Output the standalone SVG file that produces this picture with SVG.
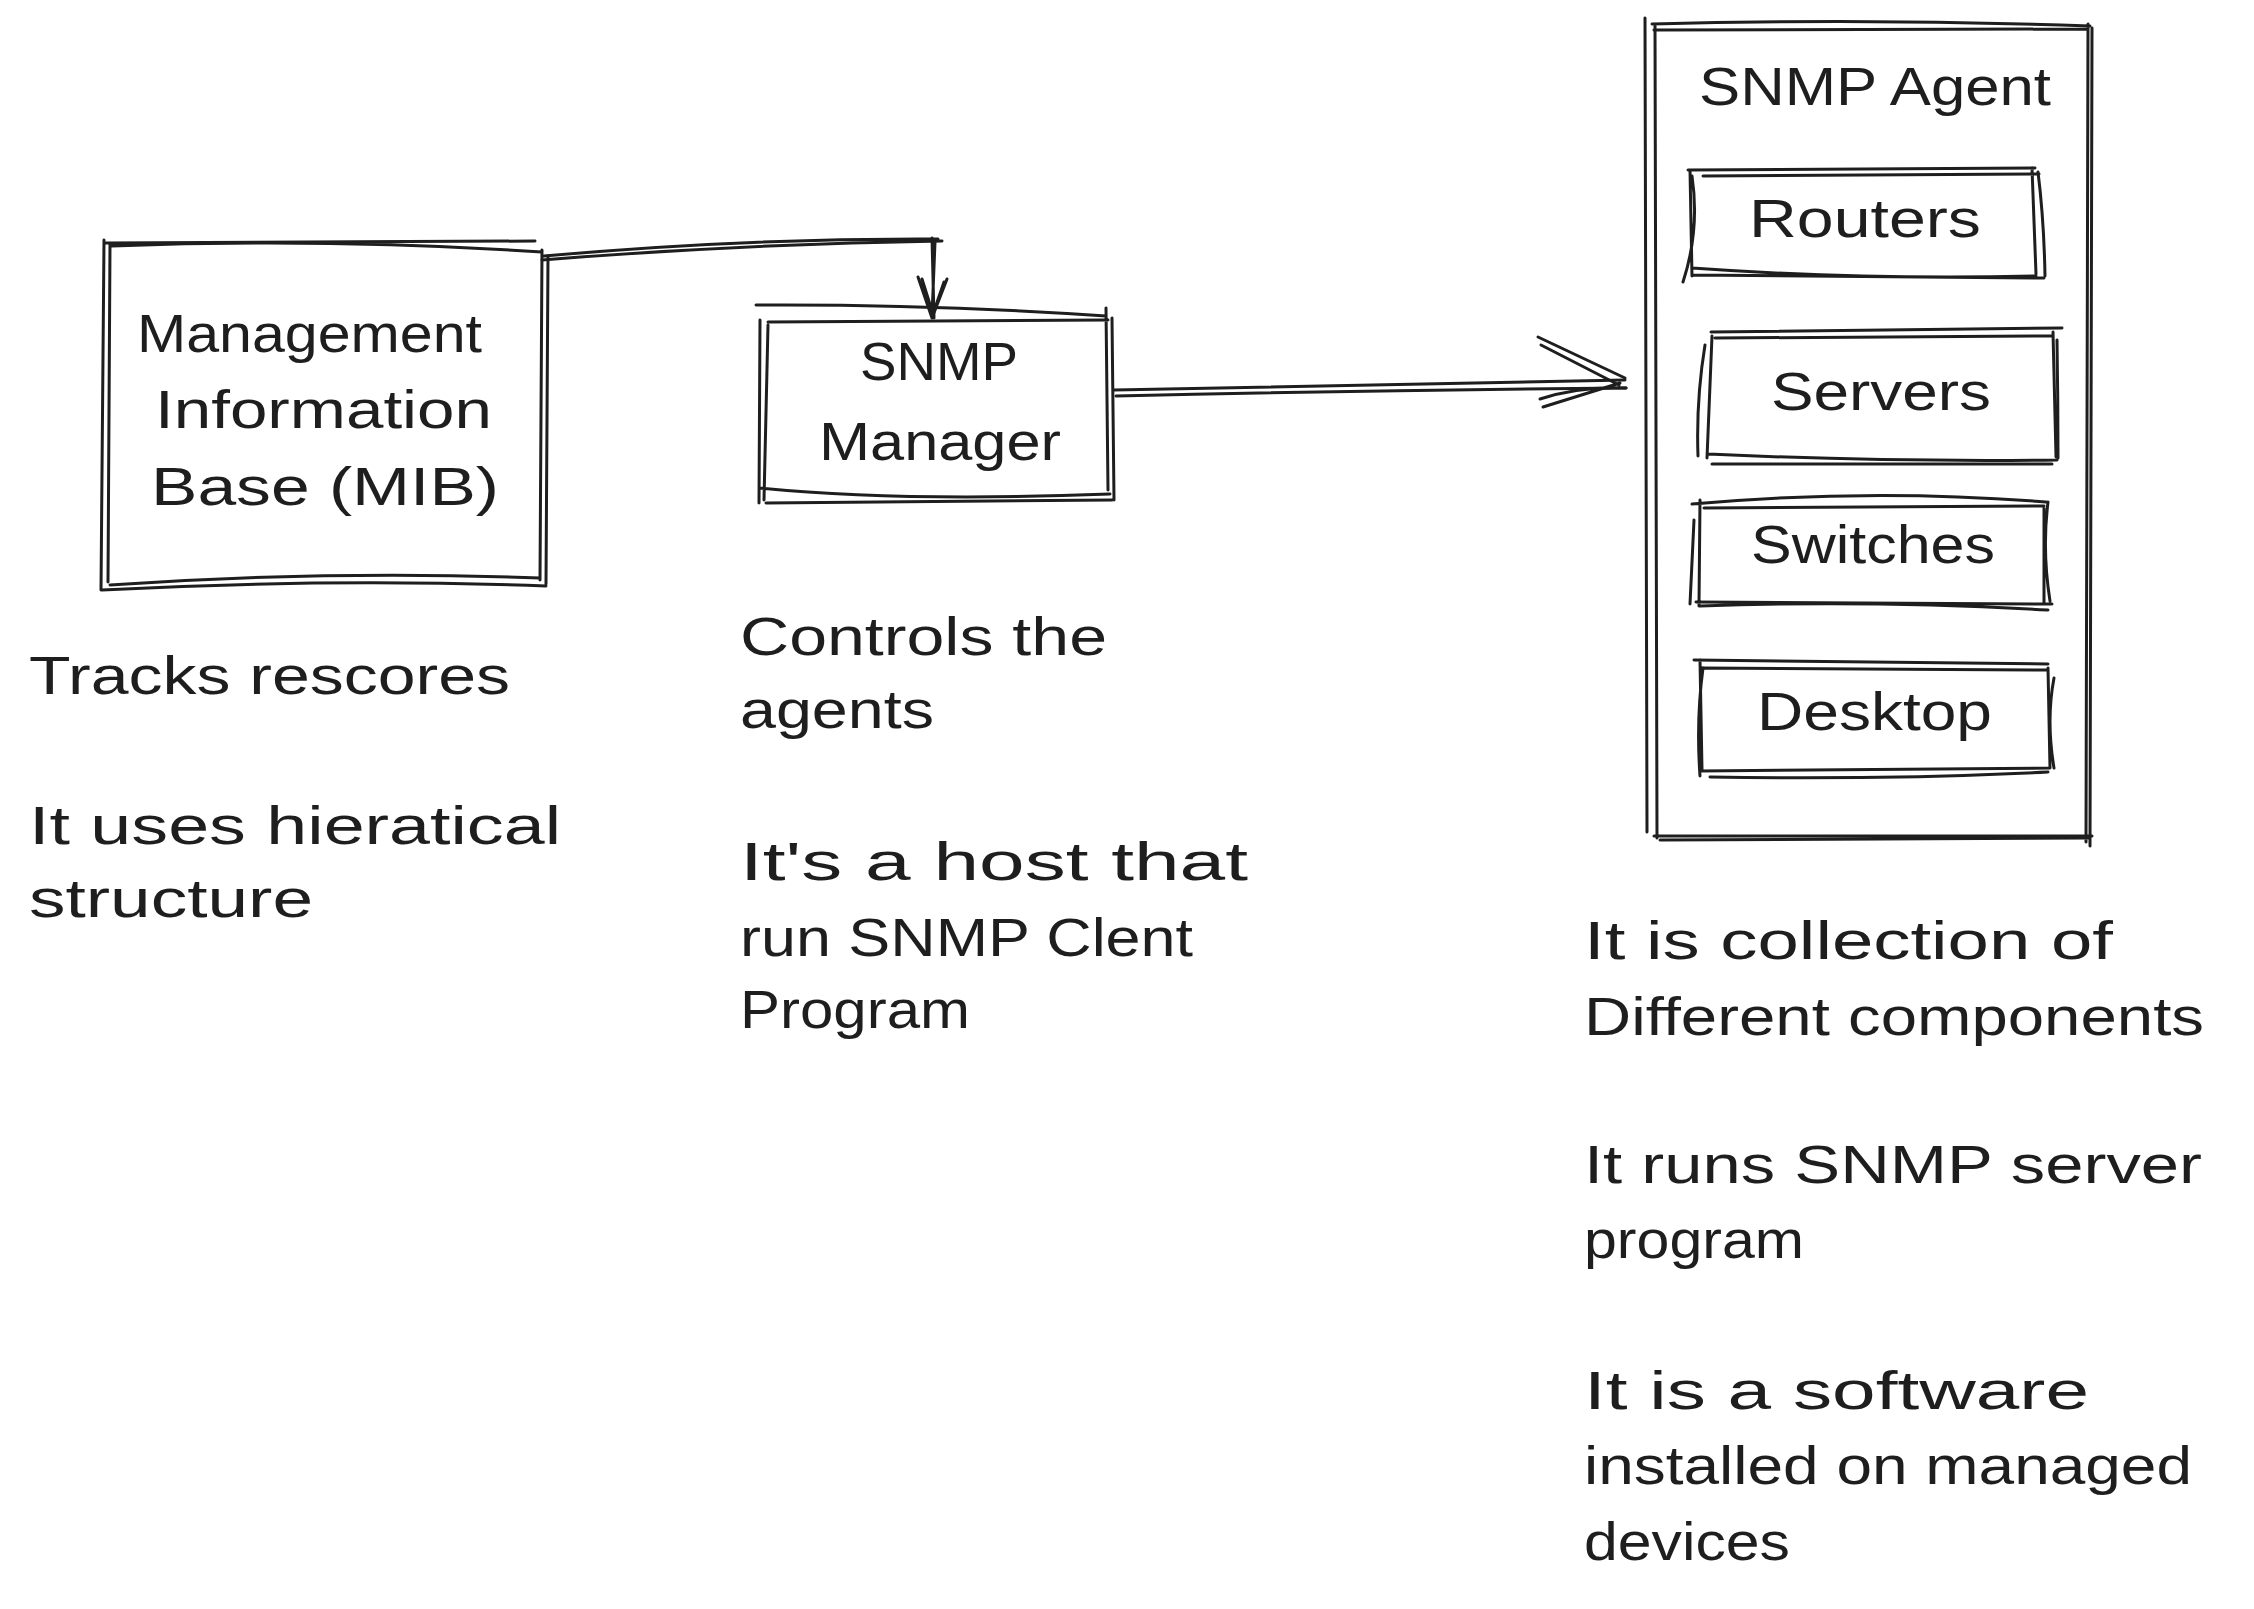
<svg xmlns="http://www.w3.org/2000/svg" width="2254" height="1609" viewBox="0 0 2254 1609">
<style>
.sk{fill:none;stroke:#1e1e1e;stroke-width:3;stroke-linecap:round;stroke-linejoin:round}
.t{font-family:"Liberation Sans","DejaVu Sans",sans-serif;font-size:54px;fill:#1e1e1e}
.c{text-anchor:start}
</style>
<rect width="2254" height="1609" fill="#ffffff"/>
<g id="connectors">
<path class="sk" d="M542 260 Q740 244 942 241 M544 256 Q745 238 938 239"/>
<path class="sk" d="M932 238 L934 318 M935 242 L932 316"/>
<path class="sk" d="M918 277 L932 318 L947 279 M922 279 L933 314 L944 282"/>
<path class="sk" d="M1114 390 Q1370 384 1625 380 M1116 396 Q1370 390 1626 388"/>
<path class="sk" d="M1538 337 L1625 378 M1541 345 L1619 385 M1540 399 Q1580 386 1626 388 M1543 407 L1620 383"/>
</g>
<g id="mib">
<path class="sk" d="M106 243 L535 241 M112 246 Q330 238 542 252 M542 250 L540 580 M548 256 L546 584 M110 585 Q330 570 540 578 M102 590 Q330 578 546 586 M110 244 L108 582 M104 240 L101 590"/>
<text class="t" x="137" y="352" textLength="345" lengthAdjust="spacingAndGlyphs">Management</text>
<text class="t" x="155" y="428" textLength="337" lengthAdjust="spacingAndGlyphs">Information</text>
<text class="t" x="151" y="505" textLength="348" lengthAdjust="spacingAndGlyphs">Base (MIB)</text>
</g>
<g id="snmp-manager">
<path class="sk" d="M756 305 Q930 304 1106 316 M768 322 L1108 320 M1106 308 L1108 490 M1112 318 L1114 500 M760 488 Q900 502 1110 494 M766 503 L1112 500 M768 325 L764 500 M760 320 L759 503"/>
<text class="t" x="860" y="380" textLength="158" lengthAdjust="spacingAndGlyphs">SNMP</text>
<text class="t" x="819" y="460" textLength="242" lengthAdjust="spacingAndGlyphs">Manager</text>
</g>
<g id="snmp-agent">
<path class="sk" d="M1652 24 Q1870 18 2090 26 M1654 30 L2088 29 M2088 24 L2086 842 M2092 28 L2090 846 M1654 836 L2092 836 M1660 840 L2088 838 M1645 18 L1647 832 M1655 26 L1657 838"/>
<text class="t" x="1699" y="105" textLength="352" lengthAdjust="spacingAndGlyphs">SNMP Agent</text>
</g>
<g id="routers">
<path class="sk" d="M1688 170 L2035 168 M1703 176 L2039 174 M2032 168 L2036 274 M2038 172 Q2044 220 2045 276 M1692 275 L2044 278 M1692 268 Q1860 280 2036 276 M1690 170 L1692 276 M1692 176 Q1700 230 1683 282"/>
<text class="t" x="1749" y="237" textLength="232" lengthAdjust="spacingAndGlyphs">Routers</text>
</g>
<g id="servers">
<path class="sk" d="M1711 332 L2062 328 M1715 338 L2052 336 M2053 332 L2056 457 M2057 340 Q2058 400 2058 458 M1708 454 Q1880 462 2057 460 M1712 464 L2052 464 M1712 336 L1707 458 M1705 345 Q1696 400 1698 456"/>
<text class="t" x="1771" y="410" textLength="220" lengthAdjust="spacingAndGlyphs">Servers</text>
</g>
<g id="switches">
<path class="sk" d="M1692 504 Q1870 488 2046 502 M1704 508 L2044 506 M2048 502 Q2042 550 2050 601 M2044 508 L2044 604 M1696 602 L2052 604 M1700 606 Q1870 600 2048 610 M1700 500 L1699 606 M1694 520 L1690 604"/>
<text class="t" x="1751" y="563" textLength="244" lengthAdjust="spacingAndGlyphs">Switches</text>
</g>
<g id="desktop">
<path class="sk" d="M1694 660 L2048 664 M1702 668 L2048 670 M2048 668 L2050 768 M2054 678 Q2046 720 2054 768 M1700 771 L2050 768 M1710 777 Q1880 780 2048 772 M1700 660 L1702 770 M1703 668 Q1696 720 1700 776"/>
<text class="t" x="1757" y="730" textLength="235" lengthAdjust="spacingAndGlyphs">Desktop</text>
</g>
<g id="mib-notes">
<text class="t" x="29" y="694" textLength="481" lengthAdjust="spacingAndGlyphs">Tracks rescores</text>
<text class="t" x="29" y="844" textLength="532" lengthAdjust="spacingAndGlyphs">It uses hieratical</text>
<text class="t" x="29" y="917" textLength="284" lengthAdjust="spacingAndGlyphs">structure</text>
</g>
<g id="manager-notes">
<text class="t" x="740" y="655" textLength="367" lengthAdjust="spacingAndGlyphs">Controls the</text>
<text class="t" x="740" y="728" textLength="194" lengthAdjust="spacingAndGlyphs">agents</text>
<text class="t" x="740" y="880" textLength="508" lengthAdjust="spacingAndGlyphs">It's a host that</text>
<text class="t" x="740" y="956" textLength="453" lengthAdjust="spacingAndGlyphs">run SNMP Clent</text>
<text class="t" x="740" y="1028" textLength="230" lengthAdjust="spacingAndGlyphs">Program</text>
</g>
<g id="agent-notes">
<text class="t" x="1584" y="959" textLength="529" lengthAdjust="spacingAndGlyphs">It is collection of</text>
<text class="t" x="1584" y="1035" textLength="620" lengthAdjust="spacingAndGlyphs">Different components</text>
<text class="t" x="1584" y="1183" textLength="618" lengthAdjust="spacingAndGlyphs">It runs SNMP server</text>
<text class="t" x="1584" y="1258" textLength="220" lengthAdjust="spacingAndGlyphs">program</text>
<text class="t" x="1584" y="1409" textLength="505" lengthAdjust="spacingAndGlyphs">It is a software</text>
<text class="t" x="1584" y="1484" textLength="608" lengthAdjust="spacingAndGlyphs">installed on managed</text>
<text class="t" x="1584" y="1560" textLength="206" lengthAdjust="spacingAndGlyphs">devices</text>
</g>
</svg>
